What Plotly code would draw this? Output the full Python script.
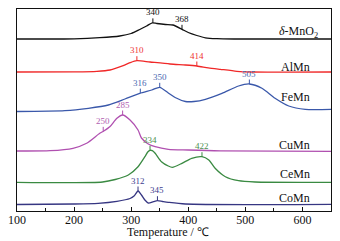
import numpy as np
import plotly.graph_objects as go

# Temperature (°C) sample points and relative TPR signal (stacked, arbitrary units)
mno2_T = [100, 200, 245, 280, 300, 315, 327, 337, 345, 360, 373, 389, 400, 415, 430, 450, 480, 650]
mno2_y = [172, 172.2, 173.3, 175, 177.5, 181.5, 185, 188.2, 187.5, 186.5, 186, 181.7, 178.5, 175.5, 173.2, 172.3, 172, 172]

almn_T = [100, 200, 240, 263, 286, 298, 310, 333, 368, 395, 415, 435, 456, 485, 510, 650]
almn_y = [139, 139.2, 139.7, 141, 145.3, 148.3, 150.3, 149, 147, 146, 145, 143.2, 141.7, 139.7, 139, 139]

femn_T = [100, 184, 225, 260, 289, 315, 336, 350, 365, 377, 395, 410, 430, 459, 488, 507, 529, 552, 576, 605, 650]
femn_y = [99.5, 100.3, 102.7, 106, 112, 117.7, 121, 123.7, 118, 113.5, 109.5, 109.5, 111.7, 117.7, 125, 127, 122.7, 112.7, 105, 101.7, 101.7]

cumn_T = [100, 158, 198, 222, 245, 252, 263, 275, 285, 298, 312, 318, 330, 342, 365, 400, 456, 650]
cumn_y = [60, 60.3, 62.7, 67.7, 77.7, 80, 84.5, 92.7, 96, 91, 81, 73, 67, 64.3, 61.7, 61, 60.2, 59.7]

cemn_T = [100, 250, 272, 295, 312, 324, 329, 333, 337, 342, 353, 365, 372, 389, 406, 424, 436, 447, 465, 488, 517, 650]
cemn_y = [28.7, 29, 31.5, 36, 44.3, 54.3, 59, 60.7, 60.3, 57.7, 49.3, 45, 43.7, 47.7, 52.7, 54.3, 51, 42.7, 34.3, 30.3, 29, 28.7]

comn_T = [100, 200, 242, 275, 298, 305, 312, 318, 324, 330, 339, 346, 355, 365, 395, 650]
comn_y = [6.5, 7, 7.7, 9.7, 12.5, 15, 20, 16, 11, 8, 9.3, 10.3, 9.5, 8.7, 7, 6.7]

series_names = ["<i>δ</i>-MnO<sub>2</sub>", "AlMn", "FeMn", "CuMn", "CeMn", "CoMn"]
series_T = [mno2_T, almn_T, femn_T, cumn_T, cemn_T, comn_T]
series_y = [mno2_y, almn_y, femn_y, cumn_y, cemn_y, comn_y]
line_colors = ["#111111", "#f02828", "#3a58aa", "#b050b0", "#3a8a42", "#363682"]
text_colors = ["#111111", "#ee3333", "#4a68b0", "#b060b0", "#4a9050", "#404090"]
name_y = [178.7, 144.3, 114.3, 66, 37, 12.7]
name_x = [631, 617, 617, 617, 617, 617]

# peak marks: (series index, position on axis, label text)
peak_series = [0, 0, 1, 1, 2, 2, 2, 3, 3, 4, 4, 5, 5]
peak_pos = [338, 389, 310, 415, 316, 350, 507, 251, 285, 333, 424, 312, 346]
peak_text = ["340", "368", "310", "414", "316", "350", "505", "250", "285", "334", "422", "312", "345"]

x_ticks = [100, 200, 300, 400, 500, 600]

fig = go.Figure()
serif = "Liberation Serif"

for T, y, c in zip(series_T, series_y, line_colors):
    fig.add_trace(go.Scatter(x=T, y=y, mode="lines",
                             line=dict(color=c, width=1.3, shape="spline", smoothing=0.7),
                             showlegend=False, hoverinfo="skip"))

for s, p, t in zip(peak_series, peak_pos, peak_text):
    h = float(np.interp(p, series_T[s], series_y[s]))
    fig.add_trace(go.Scatter(x=[p, p], y=[h, h + 4.5], mode="lines",
                             line=dict(color=line_colors[s], width=1),
                             showlegend=False, hoverinfo="skip"))
    fig.add_annotation(x=p, y=h + 4.5, text=t, showarrow=False, yanchor="bottom",
                       yshift=-1, font=dict(family=serif, size=9, color=text_colors[s]))

for n, nx, ny in zip(series_names, name_x, name_y):
    fig.add_annotation(x=nx, y=ny, text=n, showarrow=False, xanchor="right", yanchor="middle",
                       font=dict(family=serif, size=12, color="#111111"))

fig.add_annotation(xref="paper", yref="paper", x=0.48, y=0, yshift=-21, text="Temperature / ℃",
                   showarrow=False, xanchor="center", yanchor="middle",
                   font=dict(family=serif, size=12, color="#111111"))

fig.update_layout(
    width=340, height=241,
    margin=dict(l=17, r=9, t=9, b=30),
    plot_bgcolor="white", paper_bgcolor="white",
    font=dict(family=serif, size=12, color="#111111"),
    xaxis=dict(range=[100, 650], tickvals=x_ticks, ticks="inside", ticklen=4, tickwidth=1,
               tickcolor="#111111", showline=True, linecolor="#111111", linewidth=1.2,
               mirror=True, showgrid=False, zeroline=False, automargin=False,
               ticklabelstandoff=-3,
               minor=dict(dtick=50, tick0=100, ticks="inside", ticklen=3, tickcolor="#111111", showgrid=False),
               tickfont=dict(family=serif, size=12)),
    yaxis=dict(range=[0, 202], showticklabels=False, ticks="", showline=True, automargin=False,
               linecolor="#111111", linewidth=1.2, mirror=True, showgrid=False, zeroline=False),
)

fig.write_html("out.html", config={"displayModeBar": False},
               post_script="document.body.style.margin='0';")
